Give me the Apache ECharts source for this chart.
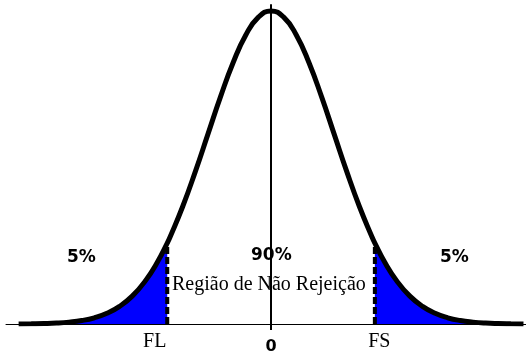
<!DOCTYPE html>
<html>
<head>
<meta charset="utf-8">
<script src="https://cdn.jsdelivr.net/npm/echarts@6/dist/echarts.min.js"></script>
<style>
  html, body { margin: 0; padding: 0; background: #fff; }
  #chart { width: 526px; height: 355px; }
</style>
</head>
<body>
<div id="chart"></div>
<script>
// Standard normal density, sampled along z (critical values ±1.645 included)
const zValues = [-4.0, -3.8, -3.6, -3.4, -3.2, -3.0, -2.8, -2.6, -2.4, -2.2, -2.0, -1.8, -1.645, -1.6, -1.4, -1.2, -1.0, -0.8, -0.6, -0.4, -0.2, 0.0,
                 0.2, 0.4, 0.6, 0.8, 1.0, 1.2, 1.4, 1.6, 1.645, 1.8, 2.0, 2.2, 2.4, 2.6, 2.8, 3.0, 3.2, 3.4, 3.6, 3.8, 4.0];
const density = [0.0001, 0.0003, 0.0006, 0.0012, 0.0024, 0.0044, 0.0079, 0.0136, 0.0224, 0.0355, 0.0540, 0.0790, 0.1031, 0.1109, 0.1497, 0.1942, 0.2420, 0.2897, 0.3332, 0.3683, 0.3910, 0.3989,
                 0.3910, 0.3683, 0.3332, 0.2897, 0.2420, 0.1942, 0.1497, 0.1109, 0.1031, 0.0790, 0.0540, 0.0355, 0.0224, 0.0136, 0.0079, 0.0044, 0.0024, 0.0012, 0.0006, 0.0003, 0.0001];

// Lower / upper critical values
const criticalLow = -1.645;
const criticalHigh = 1.645;

// Axis tick labels
const tickValues = [criticalLow, 0, criticalHigh];
const tickLabels = ['FL', '0', 'FS'];
const tickStyles = ['fl', 'zero', 'fs'];

// Region annotations
const tailLabel = '5%';
const centerLabel = '90%';
const regionLabel = 'Região de Não Rejeição';

const curve = zValues.map((z, i) => [z, density[i]]);
const leftTail = curve.filter(p => p[0] <= criticalLow);
const rightTail = curve.filter(p => p[0] >= criticalHigh);
const densityAt = z => density[zValues.indexOf(z)];

const chart = echarts.init(document.getElementById('chart'));

const boldSans = { fontFamily: 'DejaVu Sans', fontWeight: 'bold', fontSize: 17, fill: '#000' };
const serif = { fontFamily: 'Liberation Serif', fontSize: 20, fill: '#000' };

chart.setOption({
  animation: false,
  grid: { left: 6, right: 0, top: 5, bottom: 29 },
  xAxis: {
    type: 'value',
    min: -4.2,
    max: 4.04,
    splitLine: { show: false },
    axisLine: { show: true, onZero: true, lineStyle: { color: '#000', width: 1 } },
    axisTick: { show: true, customValues: [0], length: 6, lineStyle: { color: '#000', width: 2 } },
    axisLabel: {
      show: true,
      customValues: tickValues,
      margin: 8,
      formatter: v => {
        const i = tickValues.findIndex(t => Math.abs(t - v) < 1e-6);
        return i < 0 ? '' : '{' + tickStyles[i] + '|' + tickLabels[i] + '}';
      },
      rich: {
        fl: { fontFamily: 'Liberation Serif', fontSize: 20, color: '#000', padding: [0, 25, 0, 0] },
        fs: { fontFamily: 'Liberation Serif', fontSize: 20, color: '#000', padding: [0, 0, 0, 9] },
        zero: { fontFamily: 'DejaVu Sans', fontWeight: 'bold', fontSize: 16, color: '#000', padding: [7, 0, 0, 0] }
      }
    }
  },
  yAxis: {
    type: 'value',
    min: 0,
    max: 0.4065,
    splitLine: { show: false },
    axisLine: { show: true, onZero: true, lineStyle: { color: '#000', width: 2 } },
    axisTick: { show: false },
    axisLabel: { show: false }
  },
  series: [
    {
      name: 'lower tail',
      type: 'line',
      data: leftTail,
      smooth: true,
      showSymbol: false,
      lineStyle: { width: 0 },
      areaStyle: { color: '#0000ff', opacity: 1 },
      z: 1
    },
    {
      name: 'upper tail',
      type: 'line',
      data: rightTail,
      smooth: true,
      showSymbol: false,
      lineStyle: { width: 0 },
      areaStyle: { color: '#0000ff', opacity: 1 },
      z: 1
    },
    {
      name: 'FL',
      type: 'line',
      data: [[criticalLow, 0], [criticalLow, densityAt(criticalLow)]],
      showSymbol: false,
      lineStyle: { color: '#000', width: 4, type: [7, 3] },
      z: 2
    },
    {
      name: 'FS',
      type: 'line',
      data: [[criticalHigh, 0], [criticalHigh, densityAt(criticalHigh)]],
      showSymbol: false,
      lineStyle: { color: '#000', width: 4, type: [7, 3] },
      z: 2
    },
    {
      name: 'density',
      type: 'line',
      data: curve,
      smooth: true,
      showSymbol: false,
      lineStyle: { color: '#000', width: 5 },
      z: 3
    }
  ],
  graphic: [
    { type: 'text', left: 67, top: 249, z: 10, style: Object.assign({ text: tailLabel }, boldSans) },
    { type: 'text', left: 251, top: 247, z: 10, style: Object.assign({ text: centerLabel }, boldSans) },
    { type: 'text', left: 440, top: 249, z: 10, style: Object.assign({ text: tailLabel }, boldSans) },
    { type: 'text', left: 172, top: 275, z: 10, style: Object.assign({ text: regionLabel }, serif) }
  ]
});
</script>
</body>
</html>
